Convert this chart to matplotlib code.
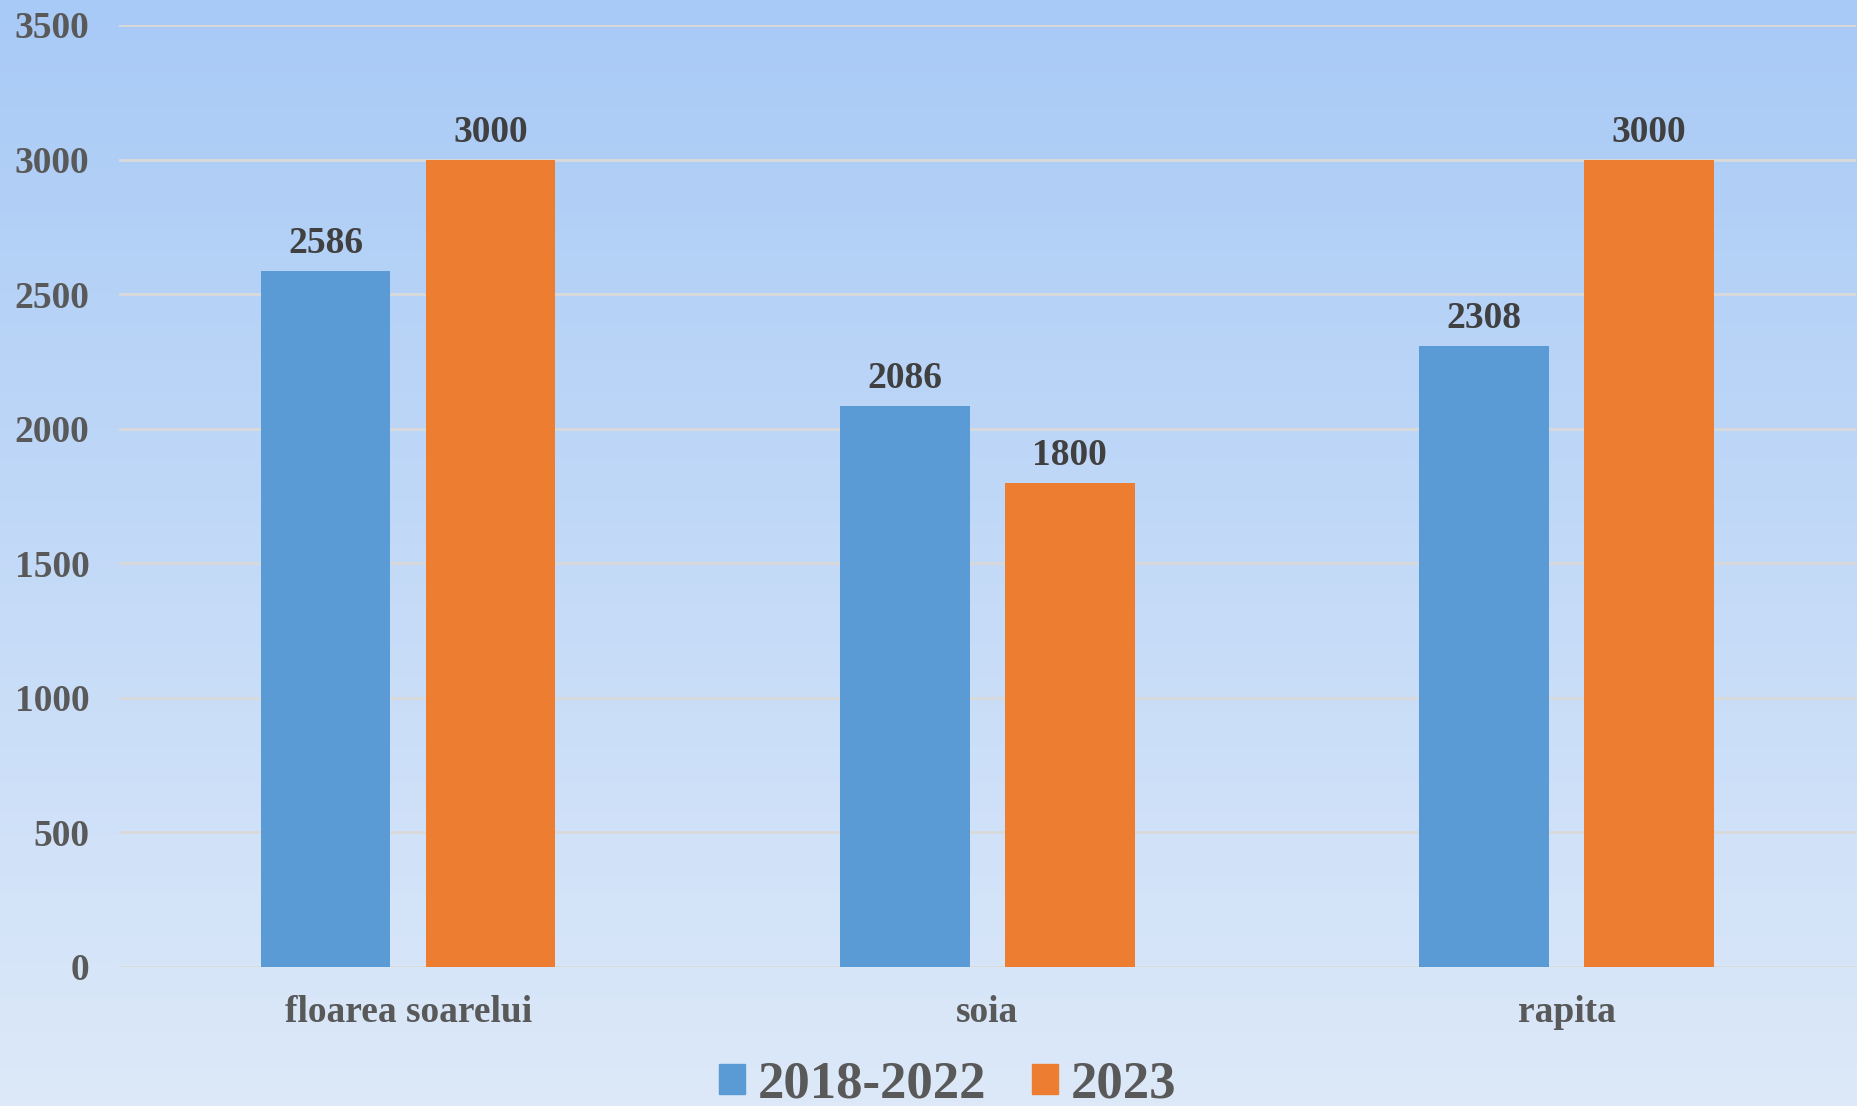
import numpy as np
import matplotlib.pyplot as plt
from matplotlib.patches import Patch

categories = ["floarea soarelui", "soia", "rapita"]
series_names = ["2018-2022", "2023"]
vals_2018_2022 = [2586, 2086, 2308]
vals_2023 = [3000, 1800, 3000]
yticks = [0, 500, 1000, 1500, 2000, 2500, 3000, 3500]

blue = "#5B9BD5"
orange = "#ED7D31"
tick_col = "#595959"
lab_col = "#404040"

plt.rcParams['font.family'] = ['Liberation Serif', 'DejaVu Serif']
plt.rcParams['font.weight'] = 'bold'

fig = plt.figure(figsize=(18.58, 11.06), dpi=100)

# background gradient
bg = fig.add_axes([0, 0, 1, 1], zorder=-10)
top = np.array([0xA8, 0xCA, 0xF6]) / 255
bot = np.array([0xDD, 0xE9, 0xF9]) / 255
t = np.linspace(0, 1, 256)[:, None]
grad = (top[None, :] * (1 - t) + bot[None, :] * t)[:, None, :]
bg.imshow(grad, aspect='auto', extent=[0, 1, 0, 1])
bg.axis('off')

ax = fig.add_axes([0.0638, 0.1257, 0.9352, 0.8517])
ax.patch.set_alpha(0)

x = np.arange(len(categories))
w = 0.2234
off = 0.1424
b1 = ax.bar(x - off, vals_2018_2022, w, color=blue, zorder=3)
b2 = ax.bar(x + off, vals_2023, w, color=orange, zorder=3)

for bars in (b1, b2):
    for r in bars:
        ax.annotate(f"{int(r.get_height())}", (r.get_x() + r.get_width() / 2, r.get_height()),
                    xytext=(0, 7), textcoords='offset points', ha='center', va='bottom',
                    fontsize=27, fontweight='bold', color=lab_col)

ax.set_xlim(-0.5, 2.5)
ax.set_ylim(0, 3500)
ax.set_yticks(yticks)
ax.set_xticks(x)
ax.set_xticklabels(categories)
ax.tick_params(axis='both', length=0, labelsize=27, colors=tick_col)
ax.tick_params(axis='y', pad=21)
ax.tick_params(axis='x', pad=20)
for lab in ax.get_xticklabels() + ax.get_yticklabels():
    lab.set_fontweight('bold')
ax.grid(axis='y', color='#D9D9D9', lw=2, zorder=0)
for s in ax.spines.values():
    s.set_visible(False)

handles = [Patch(color=blue), Patch(color=orange)]
fig.legend(handles, series_names, loc='center', bbox_to_anchor=(0.51, 0.019), ncol=2,
           frameon=False, prop={'size': 38, 'weight': 'bold'}, labelcolor=tick_col,
           handlelength=0.5, handleheight=0.5, handletextpad=0.25, columnspacing=0.85)

plt.savefig("out.png", dpi=100)
plt.close()
